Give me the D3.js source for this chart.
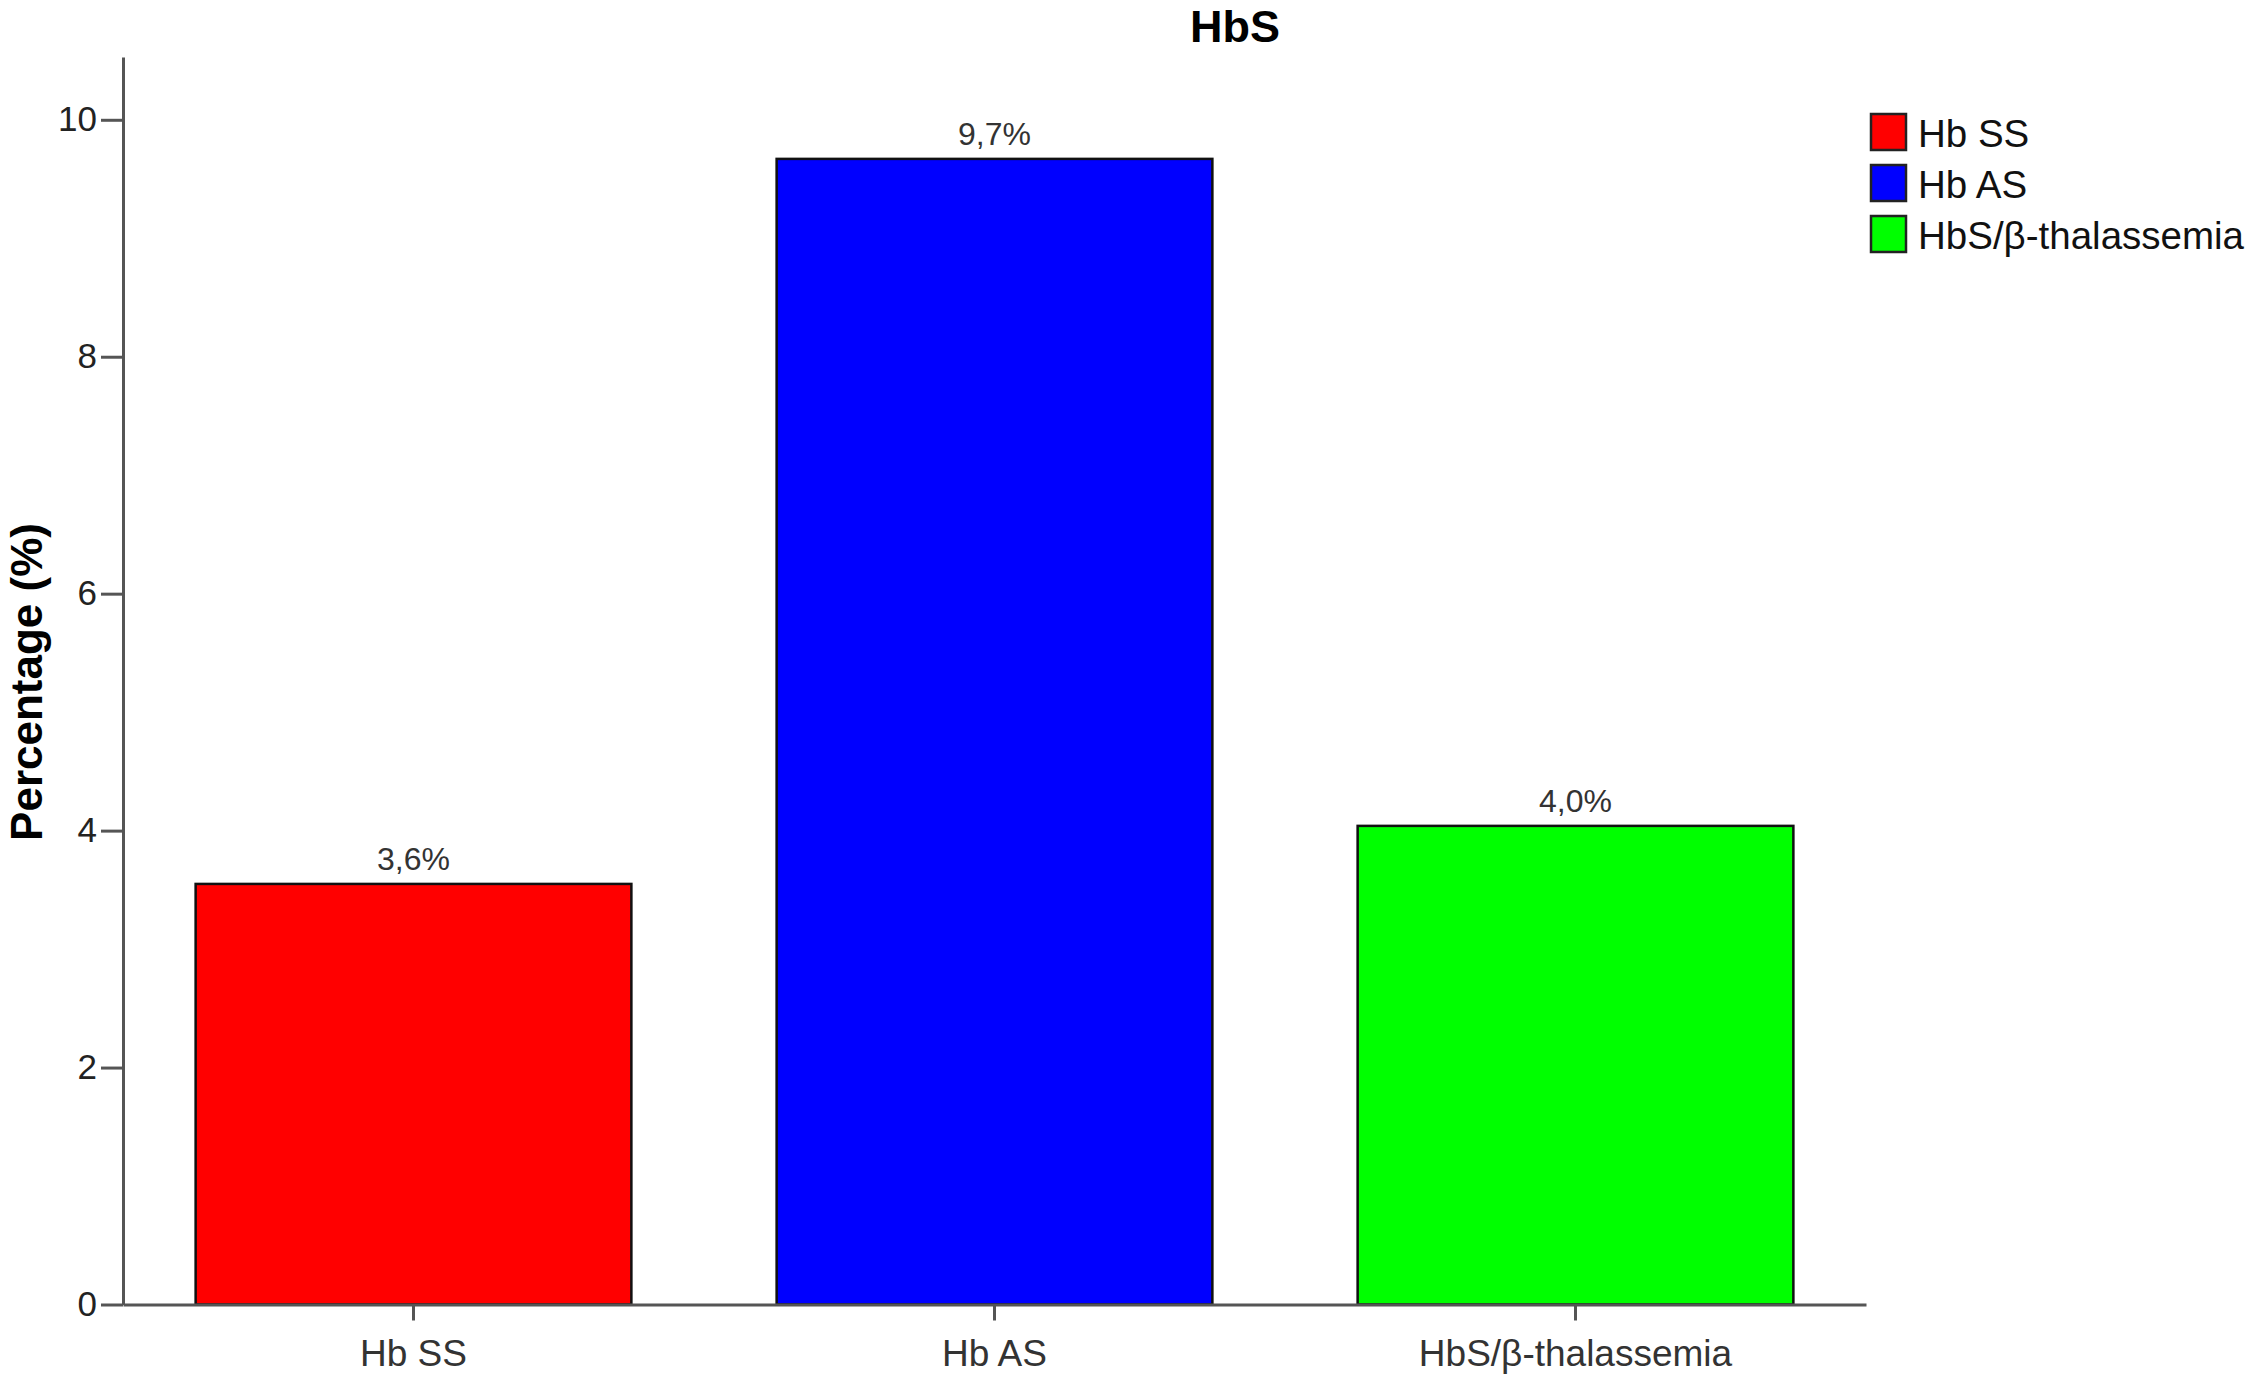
<!DOCTYPE html>
<html>
<head>
<meta charset="utf-8">
<script src="https://cdn.jsdelivr.net/npm/d3@7"></script>
<style>
  body { margin: 0; background: #fff; }
  text { font-family: "Liberation Sans", Arial, sans-serif; }
</style>
</head>
<body>
<svg id="chart" width="2250" height="1381"></svg>
<script>
// data
let categories = ["Hb SS", "Hb AS", "HbS/\u03b2-thalassemia"]
let values = [3.55, 9.67, 4.04]
let valueLabels = ["3,6%", "9,7%", "4,0%"]
let colors = ["#ff0000", "#0000ff", "#00ff00"]
let yTicks = [0, 2, 4, 6, 8, 10]

let svg = d3.select("#chart")

let plotLeft = 123, plotRight = 1866, plotTop = 57, plotBottom = 1304.5

let xScale = d3.scaleBand()
    .domain(categories)
    .range([plotLeft, plotRight])
    .paddingInner(0.25)
    .paddingOuter(0.125)

let yScale = d3.scaleLinear()
    .domain([0, 10.53])
    .range([plotBottom, plotTop])

// bars
svg.selectAll("rect.bar")
    .data(categories)
    .enter()
    .append("rect")
    .attr("class", "bar")
    .attr("x", d => xScale(d))
    .attr("y", (d, i) => yScale(values[i]))
    .attr("width", xScale.bandwidth())
    .attr("height", (d, i) => plotBottom - yScale(values[i]))
    .style("fill", (d, i) => colors[i])
    .style("stroke", "#111")
    .style("stroke-width", 2.5)

// value labels
svg.selectAll("text.val")
    .data(categories)
    .enter()
    .append("text")
    .attr("class", "val")
    .attr("x", d => xScale(d) + xScale.bandwidth() / 2)
    .attr("y", (d, i) => yScale(values[i]) - 14)
    .attr("text-anchor", "middle")
    .style("font-size", "32px")
    .style("fill", "#333")
    .text((d, i) => valueLabels[i])

// axes
let yAxis = d3.axisLeft(yScale).tickValues(yTicks).tickSize(22).tickPadding(4).tickSizeOuter(0)
let yAxisGroup = svg.append("g")
    .attr("transform", `translate(${plotLeft},0)`)
    .call(yAxis)
yAxisGroup.selectAll("text").style("font-size", "35px").style("fill", "#222")

let xAxis = d3.axisBottom(xScale).tickSize(16).tickPadding(19).tickSizeOuter(0)
let xAxisGroup = svg.append("g")
    .attr("transform", `translate(0,${plotBottom})`)
    .call(xAxis)
xAxisGroup.selectAll("text").style("font-size", "37px").style("fill", "#333")

svg.selectAll(".domain, .tick line")
    .style("stroke", "#555")
    .style("stroke-width", 3)

// title and axis title
svg.append("text")
    .attr("x", 1235)
    .attr("y", 42)
    .attr("text-anchor", "middle")
    .style("font-size", "45px")
    .style("font-weight", "bold")
    .text("HbS")

svg.append("text")
    .attr("transform", "translate(42,682) rotate(-90)")
    .attr("text-anchor", "middle")
    .style("font-size", "44px")
    .style("font-weight", "bold")
    .text("Percentage (%)")

// legend
let legend = svg.append("g").attr("transform", "translate(1871,114)")
let items = legend.selectAll("g")
    .data(categories)
    .enter()
    .append("g")
    .attr("transform", (d, i) => `translate(0,${i * 51})`)
items.append("rect")
    .attr("width", 35)
    .attr("height", 36)
    .style("fill", (d, i) => colors[i])
    .style("stroke", "#222")
    .style("stroke-width", 2.5)
items.append("text")
    .attr("x", 47)
    .attr("y", 33)
    .style("font-size", "38.5px")
    .style("fill", "#111")
    .text(d => d)
</script>
</body>
</html>
